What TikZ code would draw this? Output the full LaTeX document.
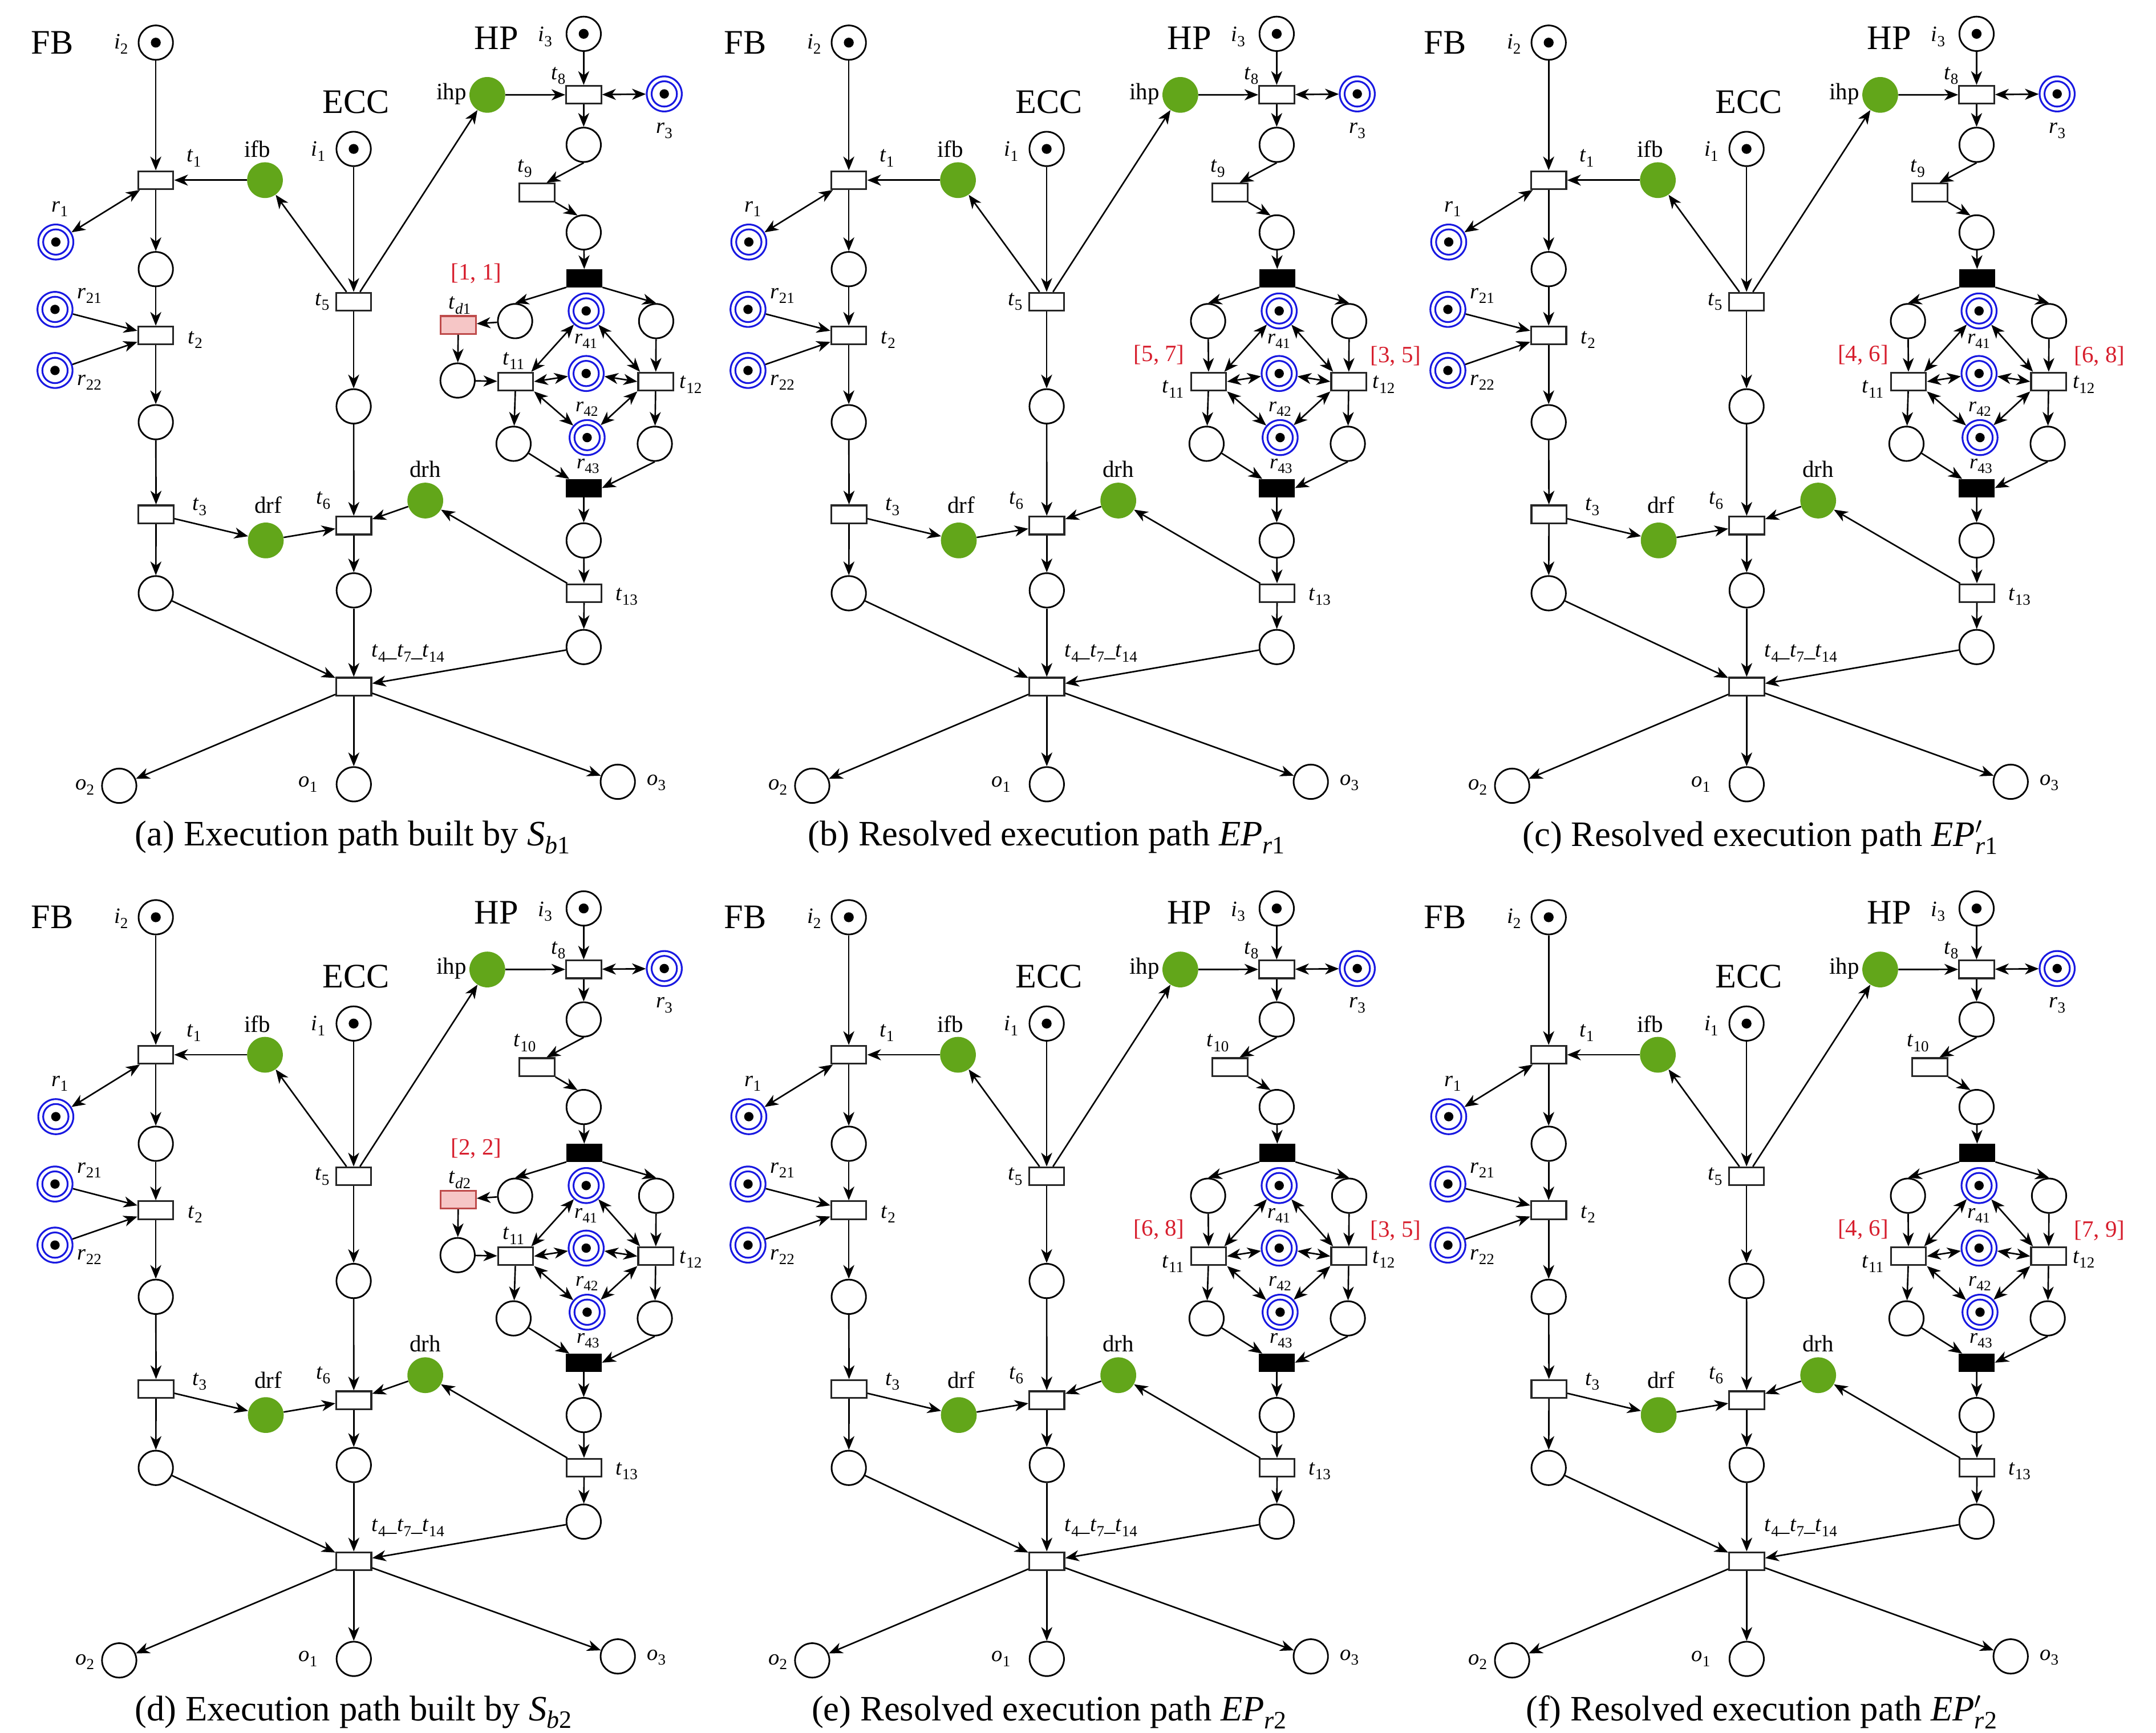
\documentclass[tikz,border=0pt]{standalone}
\usepackage{fontspec}
\setmainfont{Liberation Serif}
\usepackage{graphicx}
\usetikzlibrary{arrows.meta}

\definecolor{pgreen}{RGB}{98,166,26}
\definecolor{rblue}{RGB}{25,25,225}
\definecolor{ired}{RGB}{215,30,45}
\definecolor{tdfill}{RGB}{246,198,198}
\definecolor{tddraw}{RGB}{190,75,75}

\newcommand{\sbs}[1]{\raisebox{-0.22em}{\scalebox{0.7}{#1}}}
\newcommand{\Vl}[2]{\textit{#1}\sbs{#2}}

\tikzset{
  pl/.style={circle,draw=black,line width=1.2pt,minimum size=25pt,inner sep=0pt,fill=white},
  tokpl/.style={pl,path picture={\fill[black] (path picture bounding box.center) circle (3.6pt);}},
  respl/.style={circle,draw=rblue,line width=1.3pt,minimum size=25.5pt,inner sep=0pt,fill=white,
    path picture={\draw[rblue,line width=1.3pt] (path picture bounding box.center) circle (9.2pt);
                  \fill[black] (path picture bounding box.center) circle (3.4pt);}},
  gpl/.style={circle,fill=pgreen,minimum size=26pt,inner sep=0pt},
  tr/.style={rectangle,draw=black!85,line width=1.3pt,fill=white,minimum width=25.5pt,minimum height=13pt,inner sep=0pt},
  btr/.style={tr,fill=black,draw=black,minimum width=25pt,minimum height=12pt},
  dtr/.style={tr,fill=tdfill,draw=tddraw},
  bigtxt/.style={font=\fontsize{25}{25}\selectfont,inner sep=0pt},
  midtxt/.style={font=\fontsize{17}{17}\selectfont,inner sep=0pt},
  labtxt/.style={font=\fontsize{16}{16}\selectfont,inner sep=0pt},
  smltxt/.style={font=\fontsize{15}{15}\selectfont,inner sep=0pt},
  ivltxt/.style={font=\fontsize{17}{17}\selectfont,inner sep=0pt,text=ired},
  captxt/.style={font=\fontsize{26}{26}\selectfont,inner sep=0pt},
  pnarc/.style={line width=1.1pt,-{Stealth[length=10pt,width=8pt,inset=3pt]}},
  pnbarc/.style={line width=1.1pt,{Stealth[length=10pt,width=8pt,inset=3pt]}-{Stealth[length=10pt,width=8pt,inset=3pt]}},
}

\newcommand{\PNcore}[2]{%
  \node[bigtxt] (#1-FB) at (38,31) {FB};
  \node[bigtxt] (#1-ECC) at (259,74) {ECC};
  \node[bigtxt] (#1-HP) at (361,27.5) {HP};
  % FB column
  \node[tokpl] (#1-i2) at (113.3,31) {};
  \node[labtxt] (#1-Li2) at (88,32) {\Vl{i}{2}};
  \node[tr] (#1-t1) at (113.3,131) {};
  \node[labtxt] (#1-Lt1) at (141,115) {\Vl{t}{1}};
  \node[gpl] (#1-ifb) at (192.7,131) {};
  \node[midtxt] (#1-Lifb) at (187,108.5) {ifb};
  \node[respl] (#1-r1) at (40.6,176) {};
  \node[labtxt] (#1-Lr1) at (43.5,152) {\Vl{r}{1}};
  \node[pl] (#1-pF1) at (113.3,195.7) {};
  \node[respl] (#1-r21) at (40,225) {};
  \node[labtxt] (#1-Lr21) at (65,215) {\Vl{r}{21}};
  \node[respl] (#1-r22) at (40,269.4) {};
  \node[labtxt] (#1-Lr22) at (65,278) {\Vl{r}{22}};
  \node[tr] (#1-t2) at (113.3,244) {};
  \node[labtxt] (#1-Lt2) at (142,247) {\Vl{t}{2}};
  \node[pl] (#1-pF2) at (113.3,307) {};
  \node[tr] (#1-t3) at (113.5,374) {};
  \node[labtxt] (#1-Lt3) at (145,368.5) {\Vl{t}{3}};
  \node[pl] (#1-pF3) at (113.3,431.4) {};
  % ECC column
  \node[tokpl] (#1-i1) at (257.2,108.3) {};
  \node[labtxt] (#1-Li1) at (231.5,110) {\Vl{i}{1}};
  \node[tr] (#1-t5) at (257.2,219.4) {};
  \node[labtxt] (#1-Lt5) at (234.3,219.4) {\Vl{t}{5}};
  \node[pl] (#1-pE1) at (257.2,295.5) {};
  \node[gpl] (#1-drf) at (193.3,393) {};
  \node[midtxt] (#1-Ldrf) at (195,367.4) {drf};
  \node[tr] (#1-t6) at (257.3,382.2) {};
  \node[labtxt] (#1-Lt6) at (235,364) {\Vl{t}{6}};
  \node[gpl] (#1-drh) at (309.3,364) {};
  \node[midtxt] (#1-Ldrh) at (309.3,341) {drh};
  \node[pl] (#1-pE2) at (257.3,429.3) {};
  \node[tr] (#1-t47) at (257.3,499.3) {};
  \node[labtxt] (#1-Lt47) at (296.7,475) {\Vl{t}{4}\_\Vl{t}{7}\_\Vl{t}{14}};
  \node[pl] (#1-o2) at (86.7,571.4) {};
  \node[labtxt] (#1-Lo2) at (61.7,572.5) {\Vl{o}{2}};
  \node[pl] (#1-o1) at (257.3,570.3) {};
  \node[labtxt] (#1-Lo1) at (224,570.3) {\Vl{o}{1}};
  \node[pl] (#1-o3) at (449.3,568.5) {};
  \node[labtxt] (#1-Lo3) at (477.3,569.2) {\Vl{o}{3}};
  % HP column
  \node[tokpl] (#1-i3) at (424.5,24.6) {};
  \node[labtxt] (#1-Li3) at (396.5,26.8) {\Vl{i}{3}};
  \node[tr] (#1-t8) at (424.5,68.9) {};
  \node[labtxt] (#1-Lt8) at (406,55) {\Vl{t}{8}};
  \node[gpl] (#1-ihp) at (354.4,69) {};
  \node[midtxt] (#1-Lihp) at (328.3,68.3) {ihp};
  \node[respl] (#1-r3) at (483.1,68.3) {};
  \node[labtxt] (#1-Lr3) at (483.1,95) {\Vl{r}{3}};
  \node[pl] (#1-pH1) at (424.5,105.3) {};
  \node[tr] (#1-t9) at (390.5,140) {};
  \node[labtxt] (#1-Lt9) at (381.7,122.4) {\Vl{t}{#2}};
  \node[pl] (#1-pH2) at (424.5,169) {};
  \node[btr] (#1-bt) at (425,202.3) {};
  \node[pl] (#1-L1) at (374.6,233.5) {};
  \node[pl] (#1-R1) at (477.2,233.5) {};
  \node[respl] (#1-r41) at (426.3,226.1) {};
  \node[smltxt] (#1-Lr41) at (426,248) {\Vl{r}{41}};
  \node[tr] (#1-t11) at (375,277.5) {};
  \node[tr] (#1-t12) at (476.9,277.5) {};
  \node[labtxt] (#1-Lt12) at (502.4,279.7) {\Vl{t}{12}};
  \node[respl] (#1-r42) at (426.3,271.6) {};
  \node[smltxt] (#1-Lr42) at (426.8,297.5) {\Vl{r}{42}};
  \node[respl] (#1-r43) at (427,318.2) {};
  \node[smltxt] (#1-Lr43) at (427.6,339) {\Vl{r}{43}};
  \node[pl] (#1-BL) at (373.5,322.7) {};
  \node[pl] (#1-BR) at (476.2,322.7) {};
  \node[btr] (#1-bb) at (424.6,354.9) {};
  \node[pl] (#1-pH3) at (424.5,393) {};
  \node[tr] (#1-t13) at (424.8,431.3) {};
  \node[labtxt] (#1-Lt13) at (455.7,433.8) {\Vl{t}{13}};
  \node[pl] (#1-pH4) at (424.5,470.5) {};
  % arcs FB / ECC
  \draw[pnarc] (#1-i2) -- (#1-t1);
  \draw[pnarc] (#1-ifb) -- (#1-t1);
  \draw[pnbarc] (#1-t1) -- (#1-r1);
  \draw[pnarc] (#1-t1) -- (#1-pF1);
  \draw[pnarc] (#1-pF1) -- (#1-t2);
  \draw[pnarc] (#1-r21) -- (#1-t2);
  \draw[pnarc] (#1-r22) -- (#1-t2);
  \draw[pnarc] (#1-t2) -- (#1-pF2);
  \draw[pnarc] (#1-pF2) -- (#1-t3);
  \draw[pnarc] (#1-t3) -- (#1-drf);
  \draw[pnarc] (#1-t3) -- (#1-pF3);
  \draw[pnarc] (#1-pF3) -- (#1-t47);
  \draw[pnarc] (#1-i1) -- (#1-t5);
  \draw[pnarc] (#1-t5) -- (#1-ifb);
  \draw[pnarc] (#1-t5) -- (#1-ihp);
  \draw[pnarc] (#1-t5) -- (#1-pE1);
  \draw[pnarc] (#1-pE1) -- (#1-t6);
  \draw[pnarc] (#1-drf) -- (#1-t6);
  \draw[pnarc] (#1-drh) -- (#1-t6);
  \draw[pnarc] (#1-t6) -- (#1-pE2);
  \draw[pnarc] (#1-pE2) -- (#1-t47);
  \draw[pnarc] (#1-t13) -- (#1-drh);
  % arcs HP
  \draw[pnarc] (#1-i3) -- (#1-t8);
  \draw[pnarc] (#1-ihp) -- (#1-t8);
  \draw[pnbarc] (#1-t8) -- (#1-r3);
  \draw[pnarc] (#1-t8) -- (#1-pH1);
  \draw[pnarc] (#1-pH1.south) -- ([xshift=7pt]#1-t9.north);
  \draw[pnarc] (#1-t9.south east) -- (#1-pH2.110);
  \draw[pnarc] (#1-pH2) -- (#1-bt);
  \draw[pnarc] (#1-bt.south west) -- (#1-L1.north);
  \draw[pnarc] (#1-bt.south east) -- (#1-R1.north);
  \draw[pnarc] (#1-R1) -- (#1-t12);
  \draw[pnarc] (#1-t11) -- (#1-BL);
  \draw[pnarc] (#1-t12) -- (#1-BR);
  \draw[pnbarc] ([xshift=-2pt]#1-t11.north east) -- (#1-r41);
  \draw[pnbarc] (#1-t11.east) -- (#1-r42);
  \draw[pnbarc] (#1-t11.south east) -- (#1-r43);
  \draw[pnbarc] ([xshift=2pt]#1-t12.north west) -- (#1-r41);
  \draw[pnbarc] (#1-t12.west) -- (#1-r42);
  \draw[pnbarc] (#1-t12.south west) -- (#1-r43);
  \draw[pnarc] (#1-BL) -- (#1-bb);
  \draw[pnarc] (#1-BR.south) -- (#1-bb.east);
  \draw[pnarc] (#1-bb) -- (#1-pH3);
  \draw[pnarc] (#1-pH3) -- (#1-t13);
  \draw[pnarc] (#1-t13) -- (#1-pH4);
  \draw[pnarc] (#1-pH4) -- (#1-t47);
  \draw[pnarc] (#1-t47) -- (#1-o2);
  \draw[pnarc] (#1-t47) -- (#1-o1);
  \draw[pnarc] (#1-t47) -- (#1-o3);
}

\newcommand{\PNdel}[3]{%
  \node[dtr] (#1-td) at (333.3,236.3) {};
  \node[labtxt] (#1-Ltd) at (334.3,222) {\textit{t}\sbs{#2}};
  \node[ivltxt] (#1-iv) at (346.4,199) {#3};
  \node[pl] (#1-pD) at (332.8,276.7) {};
  \node[labtxt] (#1-Lt11) at (373.5,262.5) {\Vl{t}{11}};
  \draw[pnarc] (#1-L1) -- (#1-td);
  \draw[pnarc] (#1-td) -- (#1-pD);
  \draw[pnarc] (#1-pD) -- (#1-t11);
}

\newcommand{\PNres}[5]{%
  \draw[pnarc] (#1-L1) -- (#1-t11);
  \node[labtxt] (#1-Lt11) at (349,283) {\Vl{t}{11}};
  \node[ivltxt] (#1-ivl) at (#3,258) {#2};
  \node[ivltxt] (#1-ivr) at (#5,259) {#4};
}

\begin{document}
\begin{tikzpicture}[x=1pt,y=-1pt]
\fill[white] (0,0) rectangle (1568,1260);
\useasboundingbox (0,0) rectangle (1568,1260);

\begin{scope}[shift={(0,0)}]
  \PNcore{A}{9}
  \PNdel{A}{\textit{d}1}{[1, 1]}
  \node[captxt] (A-cap) at (256.5,609) {(a) Execution path built by \textit{S}\sbs{\textit{b}1}};
\end{scope}

\begin{scope}[shift={(504,0)}]
  \PNcore{B}{9}
  \PNres{B}{[5, 7]}{339}{[3, 5]}{511}
  \node[captxt] (B-cap) at (257,609) {(b) Resolved execution path \textit{EP}\sbs{\textit{r}1}};
\end{scope}

\begin{scope}[shift={(1013,0)}]
  \PNcore{C}{9}
  \PNres{C}{[4, 6]}{342}{[6, 8]}{514}
  \node[captxt] (C-cap) at (267,609) {(c) Resolved execution path \textit{EP}\rlap{$'$}\sbs{\textit{r}1}};
\end{scope}

\begin{scope}[shift={(0,636)}]
  \PNcore{D}{10}
  \PNdel{D}{\textit{d}2}{[2, 2]}
  \node[captxt] (D-cap) at (257,609) {(d) Execution path built by \textit{S}\sbs{\textit{b}2}};
\end{scope}

\begin{scope}[shift={(504,636)}]
  \PNcore{E}{10}
  \PNres{E}{[6, 8]}{339}{[3, 5]}{511}
  \node[captxt] (E-cap) at (259,609) {(e) Resolved execution path \textit{EP}\sbs{\textit{r}2}};
\end{scope}

\begin{scope}[shift={(1013,636)}]
  \PNcore{F}{10}
  \PNres{F}{[4, 6]}{342}{[7, 9]}{514}
  \node[captxt] (F-cap) at (268,609) {(f) Resolved execution path \textit{EP}\rlap{$'$}\sbs{\textit{r}2}};
\end{scope}
\end{tikzpicture}
\end{document}
